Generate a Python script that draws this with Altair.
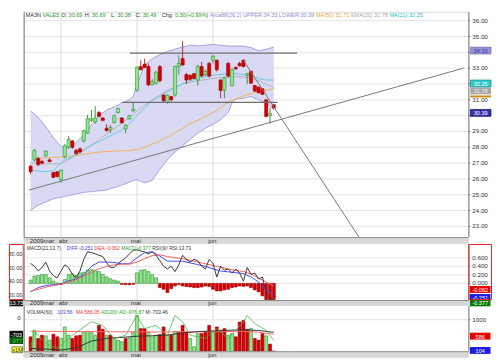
import altair as alt
import pandas as pd

FONT = "Liberation Sans"
DARK = "#333333"
GTXT = "#2a9a2a"

# ---------------- price candles (trading-day index 0..64) ----------------
opens = [26.8, 27.2, 27.3, 27.1, 27.45, 27.2, 26.4, 26.45, 25.95, 27.4,
         28.0, 28.4, 27.8, 27.9, 28.4, 28.9, 29.7, 29.6, 30.2, 29.85,
         29.2, 29.1, 29.55, 30.2, 29.85, 29.15, 29.8, 30.3, 31.6, 33.1,
         33.25, 33.1, 31.95, 32.05, 33.1, 31.3, 30.85, 31.2, 31.3, 33.1,
         33.6, 32.6, 32.55, 32.65, 32.25, 33.1, 32.6, 33.3, 33.5, 33.5,
         32.25, 31.6, 33.3, 31.9, 33.05, 33.3, 33.5, 32.55, 32.8, 31.9,
         31.8, 31.7, 31.0, 30.0, 30.69]
closes = [26.45, 27.8, 26.9, 27.0, 27.75, 27.1, 26.1, 26.15, 26.55, 28.1,
          28.5, 28.0, 27.6, 27.7, 29.05, 29.8, 29.8, 29.85, 29.95, 29.7,
          29.05, 29.25, 30.0, 30.45, 29.55, 29.4, 30.0, 30.4, 33.06, 32.9,
          33.05, 31.95, 32.15, 32.75, 32.2, 30.95, 31.3, 31.0, 33.1, 33.3,
          33.2, 32.25, 32.3, 32.35, 33.1, 32.5, 32.8, 32.5, 33.75, 32.9,
          31.6, 32.4, 32.5, 32.9, 32.95, 33.15, 33.1, 32.65, 32.05, 31.55,
          31.45, 31.35, 29.95, 30.15, 30.49]
highs = [26.9, 27.9, 27.4, 27.2, 27.8, 27.3, 26.45, 26.5, 26.6, 28.2,
         28.7, 28.45, 27.9, 28.0, 29.1, 30.05, 30.35, 30.6, 30.3, 29.9,
         29.45, 29.4, 30.05, 30.5, 29.9, 29.45, 30.05, 30.8, 33.1, 33.5,
         33.6, 33.3, 32.3, 32.8, 33.2, 31.35, 31.35, 31.25, 33.15, 33.8,
         34.7, 32.7, 32.6, 32.7, 33.2, 33.4, 32.9, 33.4, 33.85, 33.55,
         32.3, 32.45, 33.4, 33.0, 33.1, 33.4, 33.57, 32.7, 32.85, 31.95,
         31.85, 31.75, 31.05, 30.5, 30.69]
lows = [26.3, 27.1, 26.8, 26.9, 27.4, 27.05, 26.05, 26.1, 25.75, 27.3,
        27.9, 27.9, 27.5, 27.6, 28.3, 28.85, 29.6, 29.5, 29.9, 29.65,
        29.0, 28.9, 29.5, 30.15, 29.5, 28.9, 29.75, 30.25, 31.5, 32.85,
        33.0, 31.85, 31.9, 31.95, 32.1, 30.85, 30.75, 30.9, 31.2, 32.6,
        33.15, 32.0, 32.2, 32.3, 31.9, 32.45, 32.5, 32.4, 33.3, 32.8,
        31.1, 31.1, 32.4, 31.85, 32.9, 33.1, 33.05, 32.0, 32.0, 31.5,
        31.4, 31.3, 29.9, 29.5, 30.38]

# Bollinger bands
bb_idx = [0, 2, 4, 6, 8, 10, 12, 14, 16, 18, 20, 22, 24, 26, 27, 28, 29, 30,
          32, 34, 36, 38, 40, 42, 44, 46, 48, 50, 52, 53, 54, 56, 58, 60, 62, 64]
bb_upper = [30.3, 29.9, 29.3, 28.6, 28.05, 27.95, 28.3, 28.8, 29.4, 30.0, 30.35, 30.55,
            30.8, 31.0, 31.2, 31.9, 32.6, 33.2, 33.6, 33.85, 34.05, 34.2, 34.35, 34.45,
            34.4, 34.45, 34.5, 34.45, 34.4, 34.4, 34.4, 34.4, 34.3, 34.1, 34.2, 34.33]
bb_lower = [24.0, 24.35, 24.55, 24.75, 24.85, 24.95, 25.05, 25.15, 25.2, 25.25, 25.3, 25.45,
            25.6, 25.8, 25.9, 25.95, 25.85, 25.75, 25.9, 26.6, 27.2, 27.7, 28.1, 28.5,
            28.9, 29.2, 29.45, 29.75, 30.2, 30.8, 31.05, 31.1, 31.2, 31.0, 30.8, 30.4]

ma21_idx = [0, 2, 4, 6, 8, 9, 10, 12, 14, 16, 18, 20, 22, 24, 26, 28, 30, 32, 34, 36,
            38, 40, 42, 44, 46, 48, 50, 52, 54, 56, 58, 60, 62, 64]
ma21 = [26.56, 26.5, 26.45, 26.55, 27.0, 27.2, 27.3, 27.55, 27.85, 28.15, 28.35, 28.6,
        28.85, 29.1, 29.5, 30.0, 30.5, 30.95, 31.2, 31.5, 31.75, 32.0, 32.2, 32.35,
        32.45, 32.55, 32.6, 32.65, 32.65, 32.6, 32.5, 32.35, 32.25, 32.25]
ema20_idx = [0, 4, 8, 12, 16, 20, 24, 28, 32, 36, 40, 44, 48, 52, 56, 58, 60, 62, 64]
ema20 = [27.0, 26.95, 26.95, 27.5, 28.1, 28.85, 29.5, 30.3, 31.0, 31.6, 32.0, 32.2,
         32.35, 32.45, 32.45, 32.35, 32.2, 32.0, 31.78]
ma50_idx = [2, 6, 10, 14, 18, 22, 26, 28, 30, 32, 34, 36, 38, 40, 42, 44, 46, 48, 50,
            52, 54, 56, 58, 60, 62, 64]
ma50 = [27.3, 27.35, 27.4, 27.55, 27.7, 27.75, 27.8, 27.85, 28.0, 28.2, 28.4, 28.65,
        28.9, 29.2, 29.5, 29.7, 29.95, 30.2, 30.5, 30.85, 31.05, 31.25, 31.4, 31.5,
        31.6, 31.71]

# drawn trend lines (index, price)
support_i = [-0.5, 113.9]
support_p = [25.29, 33.0]
res1_i = [26.1, 70.1]
res1_p = [33.95, 33.95]
res2_i = [24.0, 65.0]
res2_p = [30.84, 30.84]
down_i = [55.9, 86.4]
down_p = [33.53, 22.32]

price_ticks = list(range(23, 37))
price_labels_shown = [23, 24, 25, 26, 27, 28, 29, 31, 33, 35, 36]

# ---------------- MACD / RSI ----------------
macd_hist = [0.077, 0.17, 0.185, 0.208, 0.208, 0.13, 0.054, 0.01, -0.023, 0.092,
             0.208, 0.223, 0.185, 0.246, 0.26, 0.31, 0.323, 0.31, 0.277, 0.208,
             0.154, 0.108, 0.077, 0.054, -0.023, -0.03, -0.03, -0.023, 0.246, 0.31,
             0.323, 0.277, 0.208, 0.13, -0.1, -0.138, -0.215, -0.123, -0.062, -0.03,
             -0.062, -0.077, -0.085, -0.1, -0.1, -0.085, -0.062, -0.077, -0.138, -0.177,
             -0.177, -0.154, -0.138, -0.1, -0.085, -0.062, -0.07, -0.062, -0.1, -0.154,
             -0.2, -0.292, -0.385, -0.385, -0.377]
macd_line_idx = [0, 2, 4, 6, 8, 10, 12, 14, 16, 18, 20, 22, 24, 26, 28, 30, 32, 34,
                 36, 38, 40, 42, 44, 46, 48, 50, 52, 54, 56, 58, 60, 62, 64]
diff_vals = [-0.2, -0.1, -0.05, -0.03, -0.02, 0.06, 0.1, 0.2, 0.4, 0.5, 0.5, 0.49,
             0.46, 0.46, 0.6, 0.72, 0.74, 0.64, 0.52, 0.52, 0.52, 0.48, 0.44, 0.4,
             0.34, 0.29, 0.27, 0.25, 0.23, 0.15, 0.03, -0.15, -0.251]
dea_vals = [-0.18, -0.14, -0.09, -0.05, -0.02, 0.03, 0.09, 0.17, 0.26, 0.34, 0.4, 0.43,
            0.45, 0.45, 0.5, 0.58, 0.65, 0.67, 0.63, 0.6, 0.58, 0.54, 0.5, 0.46,
            0.42, 0.38, 0.34, 0.3, 0.28, 0.22, 0.13, 0.03, -0.062]
rsi_vals = [66, 62, 55, 60, 68, 55, 48, 45, 55, 64,
            60, 50, 45, 55, 72, 83, 82, 80, 78, 76,
            67, 60, 60, 66, 70, 74, 80, 85, 86, 84,
            83, 80, 83, 78, 70, 62, 58, 62, 54, 64,
            78, 72, 68, 72, 70, 62, 58, 72, 66, 46,
            62, 56, 58, 52, 58, 52, 40, 60, 50, 52,
            43, 46, 22, 14, 13.73]
macd_ticks = [0.0, 0.2, 0.4, 0.6]
rsi_ticks = [20, 40, 60, 80]

# ---------------- volume ----------------
volume = [510, 698, 463, 557, 538, 416, 585, 510, 463, 793,
          557, 463, 538, 557, 651, 670, 651, 557, 840, 727,
          557, 557, 463, 416, 369, 463, 482, 651, 1122, 746,
          746, 651, 510, 557, 576, 793, 557, 557, 670, 651,
          840, 651, 463, 227, 604, 604, 651, 840, 651, 793,
          698, 746, 557, 604, 510, 934, 981, 727, 746, 463,
          416, 604, 538, 300, 104]
vol_dir = list("RGRRGGRRGG" "GRRRGGGGRR" "GRGGGRGGGR" "RGGGRRGRGR"
               "RRGGGRRRGR" "RRGGRRRRGR" "RRGRR")
vma_idx = [0, 8, 16, 24, 32, 40, 48, 56, 60, 64]
vma = [670, 665, 660, 655, 650, 650, 655, 670, 640, 586]
ad_idx = [0, 1, 4, 7, 11, 16, 19, 22, 25, 28, 30, 33, 36, 38, 40, 42, 46, 49, 52, 56, 57, 59, 62, 64]
ad_vals = [-1316, -587, -1101, -1316, -746, -159, -317, -887, -746, 111, -459, -317,
           -746, 111, -159, -746, -887, -459, -887, -159, 111, -244, -531, -977]
m_idx = [0, 4, 8, 12, 16, 20, 24, 28, 32, 36, 40, 44, 48, 52, 56, 60, 64]
m_vals = [-1320, -1350, -1390, -1300, -1000, -880, -840, -790, -770, -740, -650, -590,
          -560, -530, -510, -540, -620]
vol_ticks = [1000]
ad_ticks = [0]

month_labels = ["2009mar", "abr", "mai", "jun"]
month_label_i = [3.0, 8.6, 27.7, 47.8]
month_start_i = [8, 28, 48]

# header texts: (text, page x in reference, colour)
main_header = [("MA3N", 25, DARK), ("VALE5", 41.7, GTXT), ("O:", 60, DARK), ("30.69", 65, GTXT),
               ("H:", 85, DARK), ("30.69", 91.7, GTXT), ("L:", 111.7, DARK), ("30.38", 116.7, GTXT),
               ("C:", 136.7, DARK), ("30.49", 141.7, GTXT), ("Chg:", 163.3, DARK),
               ("0.30(+0.99%)", 176.7, GTXT),
               ("Arca88(26,2) UPPER:34.33 LOWER:30.39", 206, "#8e8ed6"),
               ("MA(50) 31.71", 311.7, "#eca23a"), ("EMA(20) 31.78", 350, "#a8a8a8"),
               ("MA(21) 32.25", 391.7, "#22bfd0")]
macd_header = [("MACD(21,13,7)", 26, DARK), ("DIFF:-0.251", 66.7, "#3a3af0"),
               ("DEA:-0.062", 89.3, "#f03030"), ("MACD:-0.377", 112.7, "#22a022"),
               ("RSI(9)! RSI:13.73", 138.7, DARK)]
vol_header = [("VOLMA(60)", 26, DARK), ("103.56", 57.3, "#3a3af0"), ("MA:586.05", 76, "#f03030"),
              ("AD(20)! AD:-976.87", 99.3, "#22a022"), ("M:-703.46", 136, DARK)]

# ---------------- layout (one view, three stacked panels) ----------------
W = 452
PLOT_LEFT = 23                       # page x of the view
M_TOP, M_BOT = 0, 229                # price panel
B1 = (229, 236)                      # date band
C_TOP, C_BOT = 236, 293              # MACD panel
B2 = (293, 299)
V_TOP, V_BOT = 299, 345              # volume panel
B3 = (345, 351)
H = 351
XD = [-0.506, 113.9]
ONE = pd.DataFrame({"k": [0]})

P_PRICE = ([22.32, 36.56], [M_BOT, M_TOP])
P_MACD = ([-0.392, 0.923], [C_BOT, C_TOP])
P_RSI = ([12.4, 94.4], [C_BOT, C_TOP])
P_VOL = ([95.5, 1395.7], [V_BOT, V_TOP])
P_AD = ([-1444, 527], [V_BOT, V_TOP])


def X(field="i"):
    return alt.X(f"{field}:Q", scale=alt.Scale(domain=XD, nice=False, zero=False), axis=None)


def Y(field, p):
    return alt.Y(f"{field}:Q", scale=alt.Scale(domain=p[0], range=p[1], nice=False, zero=False),
                 axis=None)


DIR_FILL = alt.Scale(domain=["up", "down"], range=["#8fe68f", "#d60000"])
DIR_STROKE = alt.Scale(domain=["up", "down"], range=["#2f8f2f", "#a00000"])
DIR_WICK = alt.Scale(domain=["up", "down"], range=["#3a963a", "#b83030"])

CW = {' ': 278, '!': 278, '%': 889, '(': 333, ')': 333, '+': 584, ',': 278, '-': 333,
      '.': 278, ':': 278, 'A': 667, 'C': 722, 'D': 722, 'E': 667, 'F': 611, 'H': 722,
      'I': 278, 'L': 556, 'M': 833, 'N': 722, 'O': 778, 'P': 667, 'R': 722, 'S': 667,
      'U': 722, 'V': 667, 'W': 944, 'a': 556, 'c': 500, 'g': 556, 'h': 556, 'r': 333}


def tw(s, fs):
    return sum(CW.get(ch, 556) for ch in s) / 1000.0 * fs


def texts(segs, y, fs):
    out, end = [], -1e9
    for t, px, col in segs:
        x = max(px - PLOT_LEFT, end + 0.28 * fs)
        out.append(alt.Chart(ONE).mark_text(
            text=t, font=FONT, fontSize=fs, color=col, align="left", baseline="middle"
        ).encode(x=alt.value(x), y=alt.value(y)))
        end = x + tw(t, fs)
    return out


def vrules(y0, y1):
    return alt.Chart(pd.DataFrame({"i": month_start_i})).mark_rule(
        color="#dcdcdc", strokeWidth=1).encode(x=X(), y=alt.value(y0), y2=alt.value(y1))


def hgrid(vals, p):
    return alt.Chart(pd.DataFrame({"v": vals})).mark_rule(color="#e4e4e4", strokeWidth=1).encode(
        x=alt.value(0), x2=alt.value(W), y=Y("v", p))


def rticks(vals, p):
    return alt.Chart(pd.DataFrame({"v": vals})).mark_rule(color="#777777", strokeWidth=1).encode(
        x=alt.value(W), x2=alt.value(W + 2), y=Y("v", p))


def ylabels(vals, p, fmt, x, align, fs=6.3):
    d = pd.DataFrame({"v": vals, "t": [format(v, fmt) for v in vals]})
    return alt.Chart(d).mark_text(font=FONT, fontSize=fs, color="#333333", align=align,
                                  baseline="middle").encode(x=alt.value(x), y=Y("v", p), text="t:N")


def band(y0, y1):
    rect = alt.Chart(ONE).mark_rect(fill="#d8d8d8").encode(
        x=alt.value(0), x2=alt.value(W), y=alt.value(y0), y2=alt.value(y1))
    top = alt.Chart(ONE).mark_rule(color="#8a8a8a", strokeWidth=1).encode(
        x=alt.value(0), x2=alt.value(W), y=alt.value(y0 + 0.5))
    lab = alt.Chart(pd.DataFrame({"i": month_label_i, "t": month_labels})).mark_text(
        font=FONT, fontSize=6.3, color="#333", baseline="middle").encode(
        x=X(), y=alt.value((y0 + y1) / 2 + 0.4), text="t:N")
    return [rect, top, lab]


def vline(x, y0, y1, color, w=1.0):
    return alt.Chart(ONE).mark_rule(color=color, strokeWidth=w).encode(
        x=alt.value(x), y=alt.value(y0), y2=alt.value(y1))


def box(val, p, bg, fg, label, xc, w, dy=0.0, stroke=None, th=7):
    d = pd.DataFrame({"v": [val]})
    kw = dict(orient="horizontal", size=w, thickness=th, color=bg, opacity=1, yOffset=dy)
    if stroke:
        kw.update(stroke=stroke, strokeWidth=0.7)
    out = [alt.Chart(d).mark_tick(**kw).encode(x=alt.value(xc), y=Y("v", p))]
    if label:
        out.append(alt.Chart(d).mark_text(text=label, font=FONT, fontSize=5.6, color=fg,
                                          baseline="middle", yOffset=dy + 0.4).encode(
            x=alt.value(xc), y=Y("v", p)))
    return out


def frame(x1, x2, y0, y1, color):
    return alt.Chart(ONE).mark_rect(fill="transparent", stroke=color, strokeWidth=1).encode(
        x=alt.value(x1), x2=alt.value(x2), y=alt.value(y0 + 0.5), y2=alt.value(y1 - 0.5))


layers = []

# ---- price panel ----
n = len(opens)
cdf = pd.DataFrame({"i": list(range(n)), "o": opens, "h": highs, "l": lows, "c": closes})
cdf["dir"] = ["up" if c >= o else "down" for o, c in zip(opens, closes)]
bbdf = pd.DataFrame({"i": bb_idx, "upper": bb_upper, "lower": bb_lower})

layers += [hgrid(price_ticks, P_PRICE), vrules(M_TOP, M_BOT)]
layers.append(alt.Chart(bbdf).mark_area(color="#d9d9f3", opacity=1).encode(
    x=X(), y=Y("lower", P_PRICE), y2=alt.Y2("upper")))
for f in ["upper", "lower"]:
    layers.append(alt.Chart(bbdf).mark_line(color="#a3a3df", strokeWidth=1).encode(
        x=X(), y=Y(f, P_PRICE)))
for idx, vals, col in [(ema20_idx, ema20, "#b4b4b4"), (ma50_idx, ma50, "#f2b35c"),
                       (ma21_idx, ma21, "#62cde0")]:
    layers.append(alt.Chart(pd.DataFrame({"i": idx, "v": vals})).mark_line(
        color=col, strokeWidth=1).encode(x=X(), y=Y("v", P_PRICE)))

layers.append(alt.Chart(cdf).mark_rule(strokeWidth=1).encode(
    x=X(), y=Y("l", P_PRICE), y2=alt.Y2("h"),
    color=alt.Color("dir:N", scale=DIR_WICK, legend=None)))
layers.append(alt.Chart(cdf).mark_bar(size=3.2, strokeWidth=0.6, opacity=1).encode(
    x=X(), y=Y("o", P_PRICE), y2=alt.Y2("c"),
    fill=alt.Fill("dir:N", scale=DIR_FILL, legend=None),
    stroke=alt.Stroke("dir:N", scale=DIR_STROKE, legend=None)))

hl_df = pd.DataFrame({"seg": ["r1"] * 2 + ["r2"] * 2, "i": res1_i + res2_i, "p": res1_p + res2_p})
dl_df = pd.DataFrame({"seg": ["s"] * 2 + ["d"] * 2, "i": support_i + down_i, "p": support_p + down_p})
layers.append(alt.Chart(hl_df).mark_line(color="#6e6e6e", strokeWidth=1.4).encode(
    x=X(), y=Y("p", P_PRICE), detail="seg:N"))
layers.append(alt.Chart(dl_df).mark_line(color="#777777", strokeWidth=1).encode(
    x=X(), y=Y("p", P_PRICE), detail="seg:N"))

layers += texts(main_header, 3.5, 5.6)
layers += [vline(W + 0.5, M_TOP, M_BOT, "#777777"), rticks(price_ticks, P_PRICE),
           ylabels(price_labels_shown, P_PRICE, ".2f", W + 4, "left")]
layers += box(ma50[-1], P_PRICE, "#c98a1c", "#c98a1c", "", W + 12.5, 21, dy=8, th=2)
layers += box(ema20[-1], P_PRICE, "#a8a8a8", "#eeeeee", f"{ema20[-1]:.2f}", W + 12.5, 21, dy=3.5)
layers += box(ma21[-1], P_PRICE, "#30caca", "#ffffff", f"{ma21[-1]:.2f}", W + 12.5, 21, dy=3.5,
              stroke="#109090")
layers += box(bb_upper[-1], P_PRICE, "#9292da", "#3a3a8a", f"{bb_upper[-1]:.2f}", W + 12.5, 21,
              dy=3.5, stroke="#6a6ab0")
layers += box(30.39, P_PRICE, "#3434a8", "#ffffff", "30.39", W + 12.5, 21, dy=3.5, stroke="#101060")
layers += band(*B1)
layers.append(vline(0.5, M_TOP, M_BOT, "#a0a0a0", 1.5))

# ---- MACD panel ----
mdf = pd.DataFrame({"i": list(range(n)), "hist": macd_hist, "rsi": rsi_vals})
mdf["dir"] = ["up" if v >= 0 else "down" for v in macd_hist]
ldf = pd.DataFrame({"i": macd_line_idx, "diff": diff_vals, "dea": dea_vals})

layers += [hgrid(macd_ticks, P_MACD), vrules(C_TOP, C_BOT)]
layers.append(alt.Chart(mdf).mark_bar(size=3, strokeWidth=0.6, opacity=1).encode(
    x=X(), y=Y("hist", P_MACD), y2=alt.datum(0),
    fill=alt.Fill("dir:N", scale=DIR_FILL, legend=None),
    stroke=alt.Stroke("dir:N", scale=DIR_STROKE, legend=None)))
layers.append(alt.Chart(ldf).mark_line(color="#4848f0", strokeWidth=1).encode(
    x=X(), y=Y("diff", P_MACD)))
layers.append(alt.Chart(ldf).mark_line(color="#f26060", strokeWidth=1).encode(
    x=X(), y=Y("dea", P_MACD)))
layers.append(alt.Chart(mdf).mark_line(color="#3a3a3a", strokeWidth=1).encode(
    x=X(), y=Y("rsi", P_RSI)))
layers += texts(macd_header, C_TOP + 3.7, 5.0)
layers += [vline(W + 0.5, C_TOP, C_BOT, "#777777"), rticks(macd_ticks, P_MACD),
           ylabels(macd_ticks, P_MACD, ".3f", W + 4, "left"),
           ylabels(rsi_ticks, P_RSI, ".2f", -1.5, "right", 5.6)]
layers += box(dea_vals[-1], P_MACD, "#e60000", "#ffffff", "-0.062", W + 12, 21, dy=3.5)
layers += box(diff_vals[-1], P_MACD, "#1c1ce6", "#ffffff", "-0.251", W + 12, 21, dy=3.5)
layers += box(macd_hist[-1], P_MACD, "#0a7a0a", "#ffffff", "-0.377", W + 12, 21, dy=3.5)
layers += box(rsi_vals[-1], P_RSI, "#111111", "#ffffff", "13.73", -7.5, 14, dy=4, th=6.5)
layers += [frame(-14.5, -0.5, C_TOP, C_BOT, "#ee2020"),
           frame(W + 0.5, W + 23.5, C_TOP, C_BOT, "#ee2020")]
layers += band(*B2)
layers.append(vline(0.5, C_TOP, C_BOT, "#a0a0a0", 1.5))

# ---- volume panel ----
vdf = pd.DataFrame({"i": list(range(n)), "vol": volume,
                    "dir": ["up" if d == "G" else "down" for d in vol_dir]})
layers += [hgrid(vol_ticks, P_VOL), vrules(V_TOP, V_BOT)]
layers.append(alt.Chart(vdf).mark_bar(size=3, strokeWidth=0.6, opacity=1).encode(
    x=X(), y=Y("vol", P_VOL), y2=alt.value(V_BOT),
    fill=alt.Fill("dir:N", scale=DIR_FILL, legend=None),
    stroke=alt.Stroke("dir:N", scale=DIR_STROKE, legend=None)))
layers.append(alt.Chart(pd.DataFrame({"i": vma_idx, "v": vma})).mark_line(
    color="#ff6a6a", strokeWidth=1).encode(x=X(), y=Y("v", P_VOL)))
layers.append(alt.Chart(pd.DataFrame({"i": m_idx, "v": m_vals})).mark_line(
    color="#333333", strokeWidth=1).encode(x=X(), y=Y("v", P_AD)))
layers.append(alt.Chart(pd.DataFrame({"i": ad_idx, "v": ad_vals})).mark_line(
    color="#4cb84c", strokeWidth=0.8).encode(x=X(), y=Y("v", P_AD)))
layers += texts(vol_header, V_TOP + 5.7, 5.0)
layers += [vline(W + 0.5, V_TOP, V_BOT, "#777777"), rticks(vol_ticks, P_VOL),
           ylabels(vol_ticks, P_VOL, "d", W + 4, "left"),
           ylabels(ad_ticks, P_AD, "d", -3, "right")]
layers += box(vma[-1], P_VOL, "#e60000", "#ffffff", "586", W + 12, 21, dy=2)
layers += box(volume[-1], P_VOL, "#1c1ce6", "#ffffff", "104", W + 12, 21, dy=-0.5)
layers += box(-703, P_AD, "#111111", "#ffffff", "-703", -7.5, 14)
layers += box(ad_vals[-1], P_AD, "#0a5a0a", "#44dd44", "-977", -7.5, 14)
layers.append(alt.Chart(ONE).mark_rect(fill="#ffff33", stroke="#333", strokeWidth=0.6).encode(
    x=alt.value(-12), x2=alt.value(-1), y=alt.value(V_TOP + 41.5), y2=alt.value(V_TOP + 47.5)))
layers.append(alt.Chart(ONE).mark_text(text="x1M", font=FONT, fontSize=5.6, color="#333",
                                       baseline="middle").encode(
    x=alt.value(-6.5), y=alt.value(V_TOP + 44.9)))
layers += band(*B3)
layers.append(vline(0.5, V_TOP, V_BOT, "#a0a0a0", 1.5))

chart = alt.layer(*layers).resolve_scale(y="independent").properties(
    width=W, height=H, padding=0).configure_view(strokeWidth=0).configure(background="white")

chart.save("out.html", embed_options={"renderer": "svg", "actions": False})
